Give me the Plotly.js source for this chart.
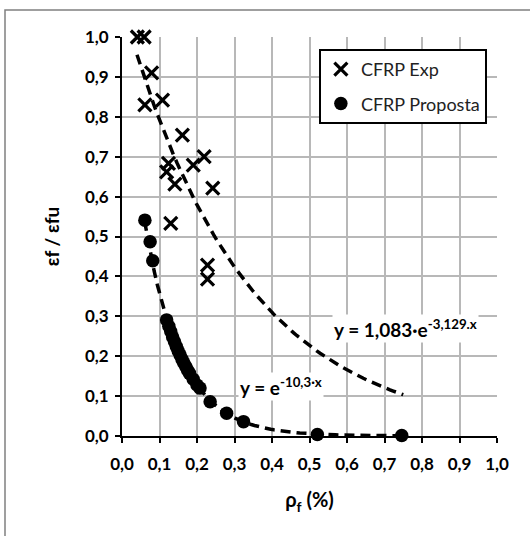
<!DOCTYPE html>
<html>
<head>
<meta charset="utf-8">
<script src="https://cdn.plot.ly/plotly-3.0.1.min.js"></script>
<style>html,body{margin:0;padding:0;background:#fff;}</style>
</head>
<body>
<div id="chart" style="width:530px;height:536px;"></div>
<script>
// CFRP Exp (experimental)
const expX = [0.041, 0.059, 0.079, 0.061, 0.108, 0.161, 0.124, 0.119, 0.141, 0.190, 0.219, 0.242, 0.130, 0.228, 0.228];
const expY = [1.000, 1.000, 0.910, 0.830, 0.842, 0.754, 0.683, 0.662, 0.631, 0.679, 0.700, 0.621, 0.533, 0.428, 0.393];
// CFRP Proposta
const propX = [0.061, 0.075, 0.082, 0.119, 0.125, 0.130, 0.135, 0.140, 0.145, 0.150, 0.155, 0.160, 0.165, 0.170, 0.175, 0.180, 0.190, 0.200, 0.208, 0.235, 0.279, 0.324, 0.521, 0.746];
const propY = [0.541, 0.487, 0.439, 0.291, 0.275, 0.262, 0.248, 0.236, 0.224, 0.213, 0.203, 0.192, 0.183, 0.174, 0.165, 0.157, 0.142, 0.128, 0.120, 0.086, 0.057, 0.036, 0.004, 0.001];
// Trendlines as printed on the chart
const expFit = {a: 1.083, b: -3.129, from: 0.04, to: 0.75};
const propFit = {a: 1.0, b: -10.3, from: 0.06, to: 0.75};
const xTicks = [0,0.1,0.2,0.3,0.4,0.5,0.6,0.7,0.8,0.9,1.0];
const xTickText = ["0,0","0,1","0,2","0,3","0,4","0,5","0,6","0,7","0,8","0,9","1,0"];
const yTicks = xTicks;
const yTickText = xTickText;

function fitLine(f){
  const xs=[], ys=[];
  const n=80;
  for(let i=0;i<=n;i++){const x=f.from+(f.to-f.from)*i/n; xs.push(x); ys.push(f.a*Math.exp(f.b*x));}
  return {xs, ys};
}
const e1=fitLine(expFit), p1=fitLine(propFit);

const font = "Lato, 'Open Sans', sans-serif";
const traces = [
  {x:e1.xs, y:e1.ys, mode:'lines', line:{color:'#000', width:3.5, dash:'10px,6px'}, showlegend:false, hoverinfo:'skip', cliponaxis:false},
  {x:p1.xs, y:p1.ys, mode:'lines', line:{color:'#000', width:3.5, dash:'10px,6px'}, showlegend:false, hoverinfo:'skip', cliponaxis:false},
  {x:expX, y:expY, mode:'markers', name:'CFRP Exp', legendgroup:'a',
   marker:{symbol:'x-thin-open', size:13, color:'#000', line:{color:'#000', width:3.2}}, cliponaxis:false},
  {x:propX, y:propY, mode:'markers', name:'CFRP Proposta', legendgroup:'b',
   marker:{symbol:'circle', size:13.5, color:'#000'}, cliponaxis:false}
];

const layout = {
  width:530, height:536,
  margin:{l:122, r:33, t:37, b:100},
  paper_bgcolor:'#fff', plot_bgcolor:'#fff',
  font:{family:font, color:'#000'},
  showlegend:true,
  legend:{x:0.525, y:0.97, xanchor:'left', yanchor:'top', bgcolor:'#fff', bordercolor:'#000', borderwidth:2,
          font:{family:font, size:18, color:'#222'}, traceorder:'grouped', tracegroupgap:8, itemwidth:30},
  xaxis:{range:[0,1], tickvals:xTicks, ticktext:xTickText, showgrid:true, gridcolor:'#b8b8b8', gridwidth:2,
         showline:true, linecolor:'#000', linewidth:2, ticks:'outside', ticklen:5, tickcolor:'#000', tickwidth:2,
         zeroline:false, tickfont:{family:font, size:17, color:'#000', weight:'bold'}, ticklabelstandoff:7,
         automargin:true,
         title:{text:'<b>ρ<sub>f</sub> (%)</b>', font:{family:font, size:20, color:'#000'}, standoff:20}},
  yaxis:{range:[0,1], tickvals:yTicks, ticktext:yTickText, showgrid:true, gridcolor:'#b8b8b8', gridwidth:2,
         showline:true, linecolor:'#000', linewidth:2, ticks:'outside', ticklen:5, tickcolor:'#000', tickwidth:2,
         zeroline:false, tickfont:{family:font, size:17, color:'#000', weight:'bold'}, ticklabelstandoff:3,
         automargin:true,
         title:{text:'<b>εf / εfu</b>', font:{family:font, size:19, color:'#000'}, standoff:20}},
  annotations:[
    {x:0.755, y:0.27, xref:'x', yref:'y', text:'<b>y = 1,083·e<sup>-3,129.x</sup></b>', showarrow:false,
     font:{family:font, size:19, color:'#000'}, bgcolor:'#fff'},
    {x:0.424, y:0.125, xref:'x', yref:'y', text:'<b>y = e<sup>-10,3·x</sup></b>', showarrow:false,
     font:{family:font, size:19, color:'#000'}, bgcolor:'#fff'}
  ],
  shapes:[
    {type:'rect', xref:'paper', yref:'paper', x0:-0.312, x1:1.25, y0:-0.3, y1:1.0677, line:{color:'#808080', width:1.5}, layer:'below'}
  ]
};
Plotly.newPlot('chart', traces, layout, {displayModeBar:false, staticPlot:true});
</script>
</body>
</html>
